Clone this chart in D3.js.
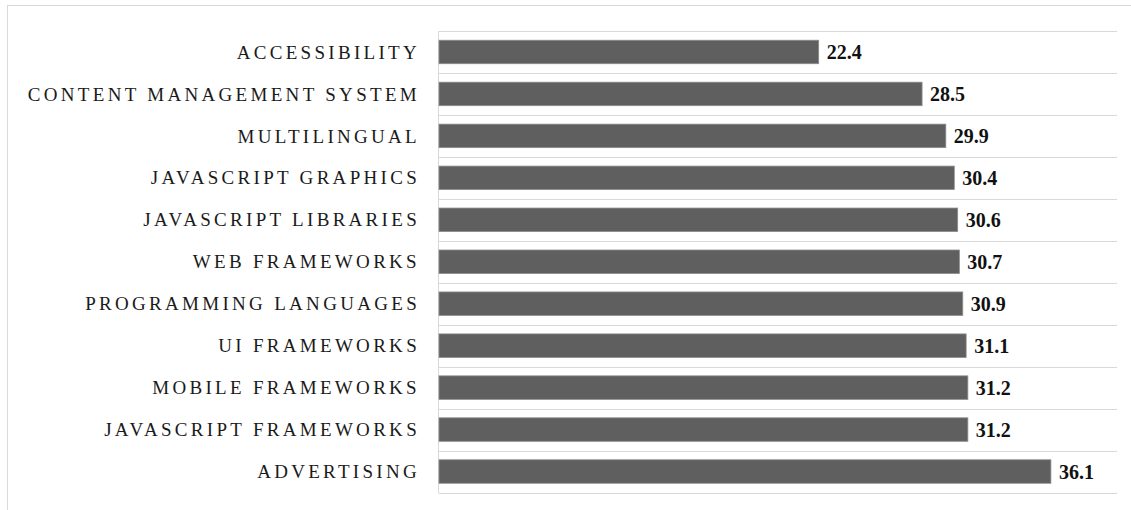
<!DOCTYPE html>
<html>
<head>
<meta charset="utf-8">
<script src="https://cdn.jsdelivr.net/npm/d3@7"></script>
<style>
  html, body { margin: 0; padding: 0; background: #fff; }
  svg { display: block; }
</style>
</head>
<body>
<svg id="chart" width="1131" height="510"></svg>
<script>
// Topics and their scores, top to bottom
const categories = [
  "ACCESSIBILITY",
  "CONTENT MANAGEMENT SYSTEM",
  "MULTILINGUAL",
  "JAVASCRIPT GRAPHICS",
  "JAVASCRIPT LIBRARIES",
  "WEB FRAMEWORKS",
  "PROGRAMMING LANGUAGES",
  "UI FRAMEWORKS",
  "MOBILE FRAMEWORKS",
  "JAVASCRIPT FRAMEWORKS",
  "ADVERTISING"
];
const values = [22.4, 28.5, 29.9, 30.4, 30.6, 30.7, 30.9, 31.1, 31.2, 31.2, 36.1];
const xDomain = [0, 40];

const svg = d3.select("#chart");

// Frame lines around the chart area
svg.append("line")
  .attr("x1", 7.5).attr("x2", 1131).attr("y1", 5.5).attr("y2", 5.5)
  .attr("stroke", "#d9d9d9").attr("stroke-width", 1);
svg.append("line")
  .attr("x1", 7.5).attr("x2", 7.5).attr("y1", 5).attr("y2", 510)
  .attr("stroke", "#d9d9d9").attr("stroke-width", 1);

const x = d3.scaleLinear().domain(xDomain).range([439, 1117]);
const y = d3.scaleBand().domain(categories).range([31, 492.5]).paddingInner(0.44).paddingOuter(0.22);

// Horizontal separators at every band boundary
const step = y.step();
const bounds = d3.range(categories.length + 1).map(i => 31 + i * (492.5 - 31) / categories.length);
svg.append("g").selectAll("line").data(bounds).join("line")
  .attr("x1", 438.5).attr("x2", x(xDomain[1]))
  .attr("y1", d => Math.round(d) + 0.5).attr("y2", d => Math.round(d) + 0.5)
  .attr("stroke", "#d9d9d9").attr("stroke-width", 1);

// Category axis line
svg.append("line")
  .attr("x1", 438.5).attr("x2", 438.5).attr("y1", 31).attr("y2", 493)
  .attr("stroke", "#d9d9d9").attr("stroke-width", 1);

// Bars
svg.append("g").selectAll("rect").data(values).join("rect")
  .attr("x", x(0))
  .attr("y", (d, i) => y(categories[i]))
  .attr("width", d => x(d) - x(0))
  .attr("height", y.bandwidth())
  .attr("fill", "#5f5f5f")
  .attr("stroke", "#8c8c8c")
  .attr("stroke-width", 0.8);

// Category labels
svg.append("g").selectAll("text").data(categories).join("text")
  .attr("x", 420)
  .attr("y", d => y(d) + y.bandwidth() / 2)
  .attr("dy", "0.35em")
  .attr("text-anchor", "end")
  .attr("font-family", "'Liberation Serif', 'Times New Roman', serif")
  .attr("font-size", 19)
  .attr("letter-spacing", 3.3)
  .attr("fill", "#1a1a1a")
  .text(d => d);

// Value labels
svg.append("g").selectAll("text").data(values).join("text")
  .attr("x", d => x(d) + 8)
  .attr("y", (d, i) => y(categories[i]) + y.bandwidth() / 2)
  .attr("dy", "0.35em")
  .attr("font-family", "'Liberation Serif', 'Times New Roman', serif")
  .attr("font-size", 20)
  .attr("font-weight", "bold")
  .attr("fill", "#111")
  .text(d => d.toFixed(1));
</script>
</body>
</html>
